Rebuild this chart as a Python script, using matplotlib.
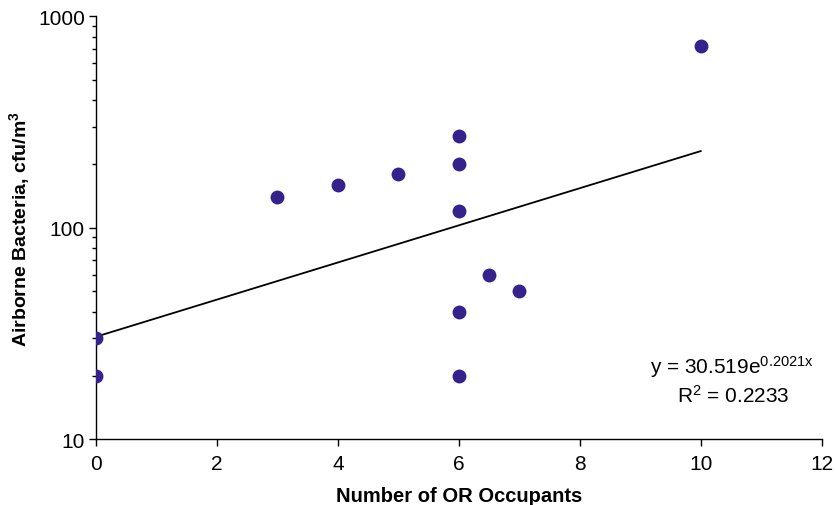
#!/usr/bin/env python3
"""Airborne bacteria vs number of OR occupants, log scale with exponential trend."""

import matplotlib
matplotlib.use("Agg")
import matplotlib.pyplot as plt
import numpy as np

# Observed points
occupants = [0, 0, 3, 4, 5, 6, 6, 6, 6, 6, 6.5, 7, 10]
bacteria = [20, 30, 140, 160, 180, 270, 200, 120, 40, 20, 60, 50, 720]

# Exponential trend line parameters (from the chart annotation)
TREND_A = 30.519
TREND_B = 0.2021
R2 = 0.2233

X_TICKS = [0, 2, 4, 6, 8, 10, 12]
Y_TICKS = [10, 100, 1000]

POINT_COLOR = "#35228a"


def main():
    plt.rcParams.update({
        "font.family": ["Liberation Sans", "DejaVu Sans"],
        "mathtext.default": "regular",
        "axes.spines.top": False,
        "axes.spines.right": False,
    })

    fig = plt.figure(figsize=(8.35, 5.06), dpi=100)
    ax = fig.add_axes([0.115, 0.130, 0.869, 0.836])

    ax.scatter(occupants, bacteria, s=100, color=POINT_COLOR, zorder=3, linewidths=0)

    xs = np.linspace(0, 10, 50)
    ax.plot(xs, TREND_A * np.exp(TREND_B * xs), color="black", lw=1.3, zorder=2)

    ax.set_yscale("log")
    ax.set_xlim(0, 12)
    ax.set_ylim(10, 1000)
    ax.set_xticks(X_TICKS)
    ax.set_xticklabels([str(t) for t in X_TICKS])
    ax.set_yticks(Y_TICKS)
    ax.set_yticklabels([str(t) for t in Y_TICKS])
    ax.tick_params(axis="both", which="major", labelsize=15, length=5, width=1, direction="out")
    ax.tick_params(axis="y", which="minor", length=3, width=1)
    ax.tick_params(axis="x", which="major", pad=6)
    ax.tick_params(axis="y", which="major", pad=3)
    for sp in ("left", "bottom"):
        ax.spines[sp].set_linewidth(1.0)

    ax.set_xlabel("Number of OR Occupants", fontsize=14.5, fontweight="bold", labelpad=9)
    ax.set_ylabel("Airborne Bacteria, cfu/m$^3$", fontsize=14, fontweight="bold", labelpad=4)

    ax.text(0.876, 0.172, f"y = {TREND_A}e$^{{{TREND_B}x}}$", transform=ax.transAxes,
            ha="center", va="center", fontsize=15)
    ax.text(0.878, 0.106, f"R$^2$ = {R2}", transform=ax.transAxes,
            ha="center", va="center", fontsize=15)

    fig.savefig("out.png", dpi=100)
    plt.close(fig)


if __name__ == "__main__":
    main()
